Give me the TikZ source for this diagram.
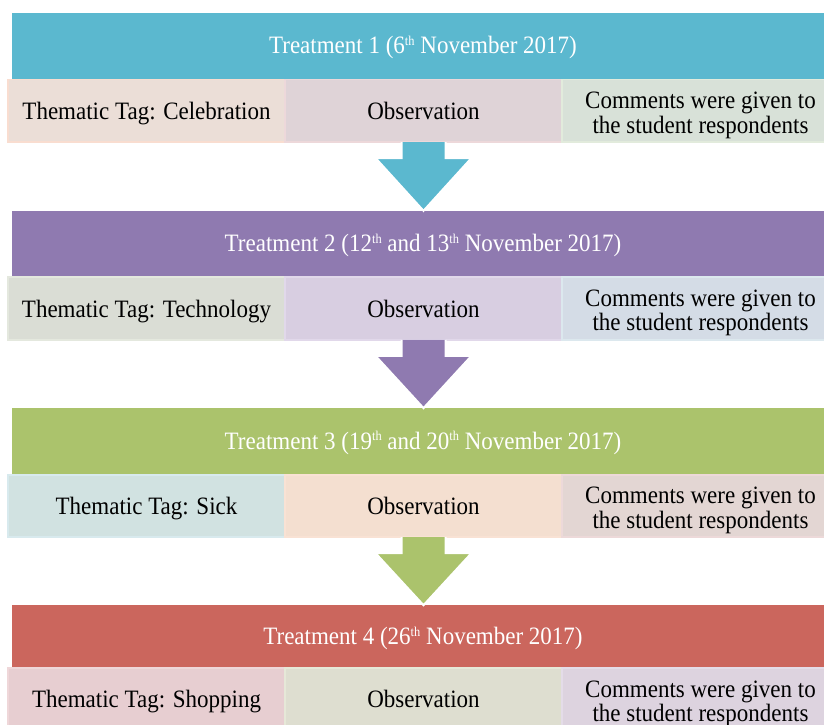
\documentclass[tikz,border=0pt]{standalone}
\usepackage{fontspec}
\setmainfont[FakeStretch=0.92]{Liberation Serif}
\usetikzlibrary{calc}
\definecolor{hA}{HTML}{5BB8CF}
\definecolor{hB}{HTML}{8F7AB0}
\definecolor{hC}{HTML}{ABC36C}
\definecolor{hD}{HTML}{CB665D}
% cell fills / borders
\definecolor{cAa}{HTML}{EBDED7}\definecolor{bAa}{HTML}{F9DDD0}
\definecolor{cAb}{HTML}{DFD3D7}\definecolor{bAb}{HTML}{EDD8DA}
\definecolor{cAc}{HTML}{D8E1D8}\definecolor{bAc}{HTML}{E2EBDC}
\definecolor{cBa}{HTML}{DADDD5}\definecolor{bBa}{HTML}{E4E8DE}
\definecolor{cBb}{HTML}{D8CEE1}\definecolor{bBb}{HTML}{E1D8EA}
\definecolor{cBc}{HTML}{D4DCE6}\definecolor{bBc}{HTML}{DCE8EE}
\definecolor{cCa}{HTML}{D1E2E1}\definecolor{bCa}{HTML}{D8EAEE}
\definecolor{cCb}{HTML}{F4DFD0}\definecolor{bCb}{HTML}{F9E2D4}
\definecolor{cCc}{HTML}{E3D6D3}\definecolor{bCc}{HTML}{EDD9D9}
\definecolor{cDa}{HTML}{E7CED1}\definecolor{bDa}{HTML}{EFD7D9}
\definecolor{cDb}{HTML}{DEDED0}\definecolor{bDb}{HTML}{E6E8D8}
\definecolor{cDc}{HTML}{DDD3DF}\definecolor{bDc}{HTML}{E4DCE8}
\newcommand{\sups}[1]{\raisebox{8.5pt}{\fontsize{13.5}{13.5}\selectfont #1}}
\newcommand{\oneline}{\rule[-6pt]{0pt}{29pt}}
\newcommand{\topline}{\rule{0pt}{26pt}}
\newcommand{\botline}{\rule[-6pt]{0pt}{6pt}}
\newcommand{\hdrline}{\rule[-6pt]{0pt}{28pt}}
\newcommand{\cmt}{\topline Comments were given to\\the student respondents\botline}
\begin{document}
\begin{tikzpicture}[x=1pt,y=-1pt,
  txt/.style={font=\fontsize{25}{24.5}\selectfont},
  hdr/.style={txt, anchor=north west, inner sep=0pt, outer sep=0pt,
    minimum width=822pt, minimum height=66pt, text=white},
  cell/.style={txt, anchor=north west, inner sep=0pt, outer sep=0pt,
    minimum width=277pt, minimum height=62.5pt, line width=1.8pt,
    align=center, text=black},
  barrow/.style={draw=white, line width=2pt, line join=miter}
]
\useasboundingbox (0,0) rectangle (824,725);
\clip (0,0) rectangle (824,725);

% ---------- block 1 ----------
\node[hdr, fill=hA] (h1) at (12,13) {\hdrline Treatment 1 (6\sups{th} November 2017)};
\node[cell, fill=cAa, draw=bAa] (l1) at (8,79.5) {\oneline Thematic Tag: Celebration};
\node[cell, fill=cAb, draw=bAb] (m1) at (285,79.5) {\oneline Observation};
\node[cell, fill=cAc, draw=bAc] (r1) at (562,79.5) {\cmt};

% ---------- block 2 ----------
\node[hdr, fill=hB] (h2) at (12,210.8) {\hdrline Treatment 2 (12\sups{th} and 13\sups{th} November 2017)};
\node[cell, fill=cBa, draw=bBa] (l2) at (8,277.3) {\oneline Thematic Tag: Technology};
\node[cell, fill=cBb, draw=bBb] (m2) at (285,277.3) {\oneline Observation};
\node[cell, fill=cBc, draw=bBc] (r2) at (562,277.3) {\cmt};

% ---------- block 3 ----------
\node[hdr, fill=hC] (h3) at (12,408.1) {\hdrline Treatment 3 (19\sups{th} and 20\sups{th} November 2017)};
\node[cell, fill=cCa, draw=bCa] (l3) at (8,474.6) {\oneline Thematic Tag: Sick};
\node[cell, fill=cCb, draw=bCb] (m3) at (285,474.6) {\oneline Observation};
\node[cell, fill=cCc, draw=bCc] (r3) at (562,474.6) {\cmt};

% ---------- block 4 ----------
\node[hdr, fill=hD, minimum height=63pt] (h4) at (12,605.2) {\hdrline Treatment 4 (26\sups{th} November 2017)};
\node[cell, fill=cDa, draw=bDa] (l4) at (8,668) {\oneline Thematic Tag: Shopping};
\node[cell, fill=cDb, draw=bDb] (m4) at (285,668) {\oneline Observation};
\node[cell, fill=cDc, draw=bDc] (r4) at (562,668) {\cmt};

% ---------- block arrows ----------
\foreach \s/\t/\c in {m1/h2/hA, m2/h3/hB, m3/h4/hC}{
  \filldraw[barrow, fill=\c]
    ($(\s.south)+(-22,0)$) -- ($(\s.south)+(-22,16)$) -- ($(\s.south)+(-48,16)$)
    -- (\s.south |- \t.north)
    -- ($(\s.south)+(48,16)$) -- ($(\s.south)+(22,16)$) -- ($(\s.south)+(22,0)$);
}
\end{tikzpicture}
\end{document}
